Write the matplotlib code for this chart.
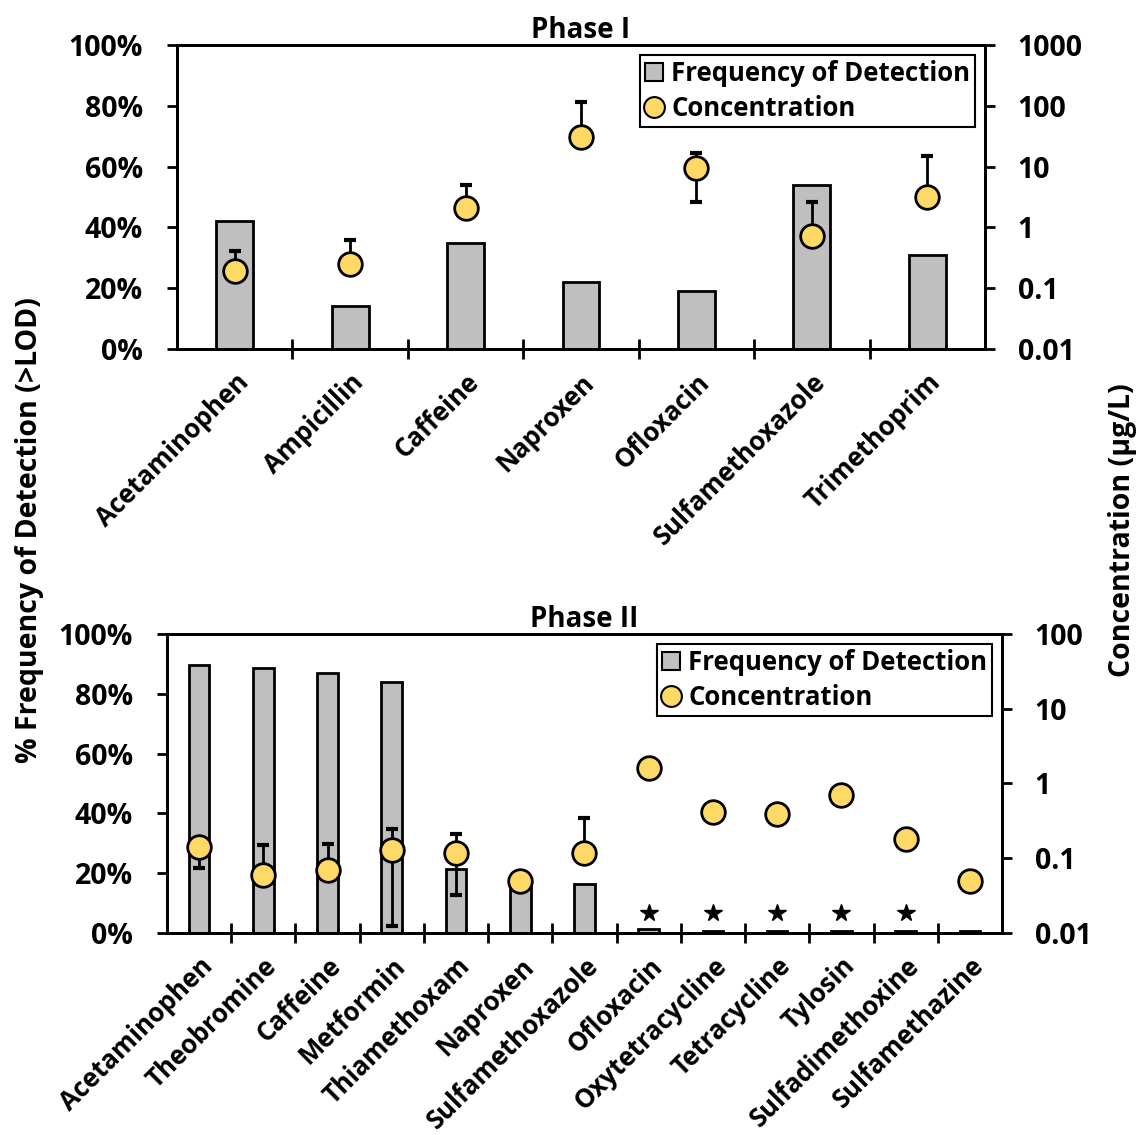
import numpy as np
import matplotlib.pyplot as plt
from matplotlib.ticker import FixedLocator, NullLocator, FuncFormatter

plt.rcParams['font.family'] = ['Open Sans', 'DejaVu Sans']
plt.rcParams['font.weight'] = 'bold'

# Phase I data
p1_names = ['Acetaminophen', 'Ampicillin', 'Caffeine', 'Naproxen', 'Ofloxacin',
            'Sulfamethoxazole', 'Trimethoprim']
p1_freq = [42, 14, 35, 22, 19, 54, 31]  # %
p1_conc = [0.19, 0.25, 2.1, 31, 9.4, 0.71, 3.2]  # ug/L
p1_err_hi = [0.41, 0.61, 4.9, 117, 16.7, 2.6, 14.7]  # top of error bar
p1_err_lo = [0.19, 0.25, 2.1, 31, 2.6, 0.71, 3.2]  # bottom of error bar

# Phase II data
p2_names = ['Acetaminophen', 'Theobromine', 'Caffeine', 'Metformin', 'Thiamethoxam',
            'Naproxen', 'Sulfamethoxazole', 'Ofloxacin', 'Oxytetracycline',
            'Tetracycline', 'Tylosin', 'Sulfadimethoxine', 'Sulfamethazine']
p2_freq = [89.5, 88.6, 86.9, 84, 21.3, 18.5, 16.3, 1.4, 0.6, 0.6, 0.6, 0.6, 0.6]
p2_conc = [0.142, 0.060, 0.069, 0.128, 0.119, 0.050, 0.119, 1.61, 0.41, 0.385,
           0.71, 0.18, 0.050]
p2_err_hi = [0.142, 0.149, 0.157, 0.248, 0.213, 0.050, 0.35, 1.61, 0.41, 0.385,
             0.71, 0.18, 0.050]
p2_err_lo = [0.075, 0.060, 0.069, 0.0125, 0.032, 0.050, 0.119, 1.61, 0.41, 0.385,
             0.71, 0.18, 0.050]
p2_star = [0, 0, 0, 0, 0, 0, 0, 1, 1, 1, 1, 1, 0]

BAR = '#bfbfbf'
DOT = '#ffd966'
FS_TICK = 20.5
FS_CAT = 18.5
FS_LEG = 18.5
FS_TITLE = 20


def panel(rect, title, names, freq, conc, hi, lo, ylog, ylabels, star=None):
    ax = fig.add_axes(rect)
    x = np.arange(len(names))
    ax.bar(x, freq, width=0.32, color=BAR, edgecolor='black', linewidth=2, zorder=2)
    ax.set_xlim(-0.5, len(names) - 0.5)
    ax.set_ylim(0, 100)
    ax.set_yticks(range(0, 101, 20))
    ax.set_yticklabels(['%d%%' % v for v in range(0, 101, 20)], fontsize=FS_TICK,
                       fontweight='bold')
    ax.xaxis.set_major_locator(FixedLocator(x))
    ax.set_xticklabels(names, rotation=45, ha='right', rotation_mode='anchor',
                       fontsize=FS_CAT, fontweight='bold')
    ax.xaxis.set_minor_locator(FixedLocator(x[:-1] + 0.5))
    ax.tick_params(axis='x', which='major', length=0, pad=14)
    ax.tick_params(axis='x', which='minor', length=15, width=2, direction='inout')
    ax.tick_params(axis='y', length=7.5, width=2, direction='out', pad=17)
    for s in ax.spines.values():
        s.set_linewidth(2)
    ax.set_title(title, fontsize=FS_TITLE, fontweight='bold', pad=5)
    if star is not None:
        xs = [xi for xi, f in zip(x, star) if f]
        ax.plot(xs, [6.6] * len(xs), ls='none', marker='*', ms=13, color='black',
                zorder=3)

    ax2 = ax.twinx()
    ax2.set_yscale('log')
    ax2.set_ylim(*ylog)
    ax2.yaxis.set_major_locator(FixedLocator(ylabels))
    ax2.yaxis.set_minor_locator(NullLocator())
    ax2.yaxis.set_major_formatter(FuncFormatter(lambda v, p: '%g' % v))
    ax2.tick_params(axis='y', length=7.5, width=2, direction='out', labelsize=FS_TICK,
                    pad=16)
    for s in ax2.spines.values():
        s.set_linewidth(2)
    conc = np.array(conc)
    yerr = [conc - np.array(lo), np.array(hi) - conc]
    ax2.errorbar(x, conc, yerr=yerr, fmt='none', ecolor='black', elinewidth=2,
                 capsize=4, capthick=3, zorder=3)
    ax2.plot(x, conc, ls='none', marker='o', ms=17, mfc=DOT, mec='black', mew=2,
             zorder=4)

    hb = plt.Rectangle((0, 0), 1, 1, fc=BAR, ec='black', lw=1.5)
    hd = plt.Line2D([], [], ls='none', marker='o', ms=15, mfc=DOT, mec='black', mew=1.5)
    leg = ax2.legend([hb, hd], ['Frequency of Detection', 'Concentration'],
                     loc='upper right', bbox_to_anchor=(1.0, 1.0), fancybox=False,
                     framealpha=1, edgecolor='black', handlelength=0.7,
                     handletextpad=0.3, borderpad=0.2, labelspacing=0.3,
                     borderaxespad=0.38, prop={'size': FS_LEG, 'weight': 'bold'})
    leg.get_frame().set_linewidth(1.5)
    for t in ax2.get_yticklabels():
        t.set_fontweight('bold')
    return ax, ax2


fig = plt.figure(figsize=(11.42, 11.35), dpi=100)

panel([0.155, 0.6925, 0.7075, 0.2679], 'Phase I', p1_names, p1_freq, p1_conc,
      p1_err_hi, p1_err_lo, (0.01, 1000), [0.01, 0.1, 1, 10, 100, 1000])
panel([0.1462, 0.178, 0.7312, 0.2634], 'Phase II', p2_names, p2_freq, p2_conc,
      p2_err_hi, p2_err_lo, (0.01, 100), [0.01, 0.1, 1, 10, 100], star=p2_star)

fig.text(0.026, 0.533, '% Frequency of Detection (>LOD)', rotation=90, ha='center',
         va='center', fontsize=20.5, fontweight='bold')
fig.text(0.983, 0.533, 'Concentration (µg/L)', rotation=90, ha='center',
         va='center', fontsize=20.5, fontweight='bold')

fig.savefig('out.png', dpi=100)
